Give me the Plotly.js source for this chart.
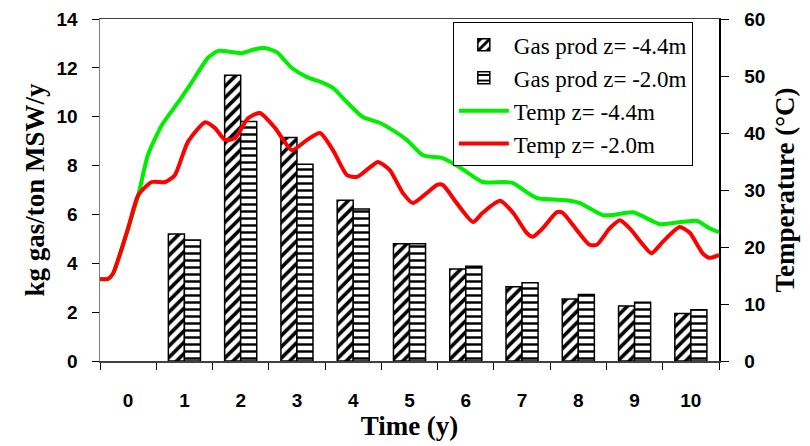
<!DOCTYPE html>
<html>
<head>
<meta charset="utf-8">
<script src="https://cdn.plot.ly/plotly-3.0.1.min.js"></script>
<style>html,body{margin:0;padding:0;background:#fff;}#chart{width:810px;height:446px;}</style>
</head>
<body>
<div id="chart"></div>
<script>
// Categories (years)
const years = [0, 1, 2, 3, 4, 5, 6, 7, 8, 9, 10];
const yearLabels = ["0", "1", "2", "3", "4", "5", "6", "7", "8", "9", "10"];
// Gas production (kg gas / ton MSW / y)
const gasDeep = [null, 5.2, 11.7, 9.15, 6.58, 4.8, 3.77, 3.04, 2.54, 2.25, 1.94];
const gasShallow = [null, 4.95, 9.8, 8.05, 6.22, 4.8, 3.88, 3.2, 2.72, 2.41, 2.1];

// Temperature curves (time in category units, °C)
const tempDeepTime = [-0.5, -0.36, -0.27, -0.15, 0.0, 0.18, 0.35, 0.6, 0.89, 1.13, 1.42, 1.6, 1.85, 2.02, 2.25, 2.43, 2.64, 2.91, 3.18, 3.46, 3.64, 3.89, 4.17, 4.47, 4.7, 4.95, 5.24, 5.59, 5.89, 6.3, 6.66, 6.84, 7.26, 7.8, 8.03, 8.43, 8.61, 8.97, 9.45, 9.68, 10.1, 10.33, 10.5];
const tempDeep = [14.4, 14.4, 15.3, 18.6, 23.3, 29.1, 36.1, 41.4, 45.4, 48.9, 53.2, 54.4, 54.2, 54.0, 54.7, 54.9, 54.2, 51.4, 49.8, 48.8, 47.9, 45.4, 42.8, 41.8, 40.5, 38.8, 36.1, 35.6, 34.0, 31.4, 31.4, 31.2, 28.6, 28.2, 27.7, 25.6, 25.6, 26.1, 24.0, 24.2, 24.6, 23.3, 22.6];

const tempShallowTime = [-0.5, -0.36, -0.27, -0.15, 0.0, 0.18, 0.42, 0.66, 0.83, 1.06, 1.37, 1.54, 1.72, 1.9, 2.13, 2.34, 2.61, 2.91, 3.18, 3.41, 3.64, 3.89, 4.07, 4.3, 4.44, 4.65, 4.88, 5.06, 5.31, 5.49, 5.59, 5.84, 6.13, 6.3, 6.61, 6.84, 7.08, 7.19, 7.37, 7.62, 7.72, 7.97, 8.2, 8.33, 8.56, 8.74, 8.91, 9.15, 9.3, 9.5, 9.8, 9.98, 10.21, 10.33, 10.5];
const tempShallow = [14.4, 14.4, 15.3, 18.6, 23.3, 29.1, 31.4, 31.4, 32.6, 38.4, 41.9, 40.9, 38.8, 39.1, 42.6, 43.5, 40.9, 37.0, 38.8, 40.0, 37.0, 32.6, 32.3, 34.0, 34.9, 33.5, 29.5, 27.7, 29.5, 30.9, 30.9, 27.7, 24.4, 26.0, 28.1, 26.0, 22.5, 21.8, 23.3, 26.1, 26.0, 23.0, 20.4, 20.4, 23.3, 24.7, 23.3, 20.4, 18.9, 20.9, 23.5, 22.5, 18.9, 18.1, 18.6];

const seriesNames = ["Gas prod z= -4.4m", "Gas prod z= -2.0m", "Temp z= -4.4m", "Temp z= -2.0m"];

const serif = "Liberation Serif, Times New Roman, serif";
const sans = "Liberation Sans, Arial, sans-serif";

const traces = [
  {
    type: "bar", x: years, y: gasDeep, name: seriesNames[0],
    marker: {color: "white", line: {color: "black", width: 1.5},
      pattern: {shape: "/", fgcolor: "black", bgcolor: "white", size: 8, solidity: 0.45}},
    yaxis: "y"
  },
  {
    type: "bar", x: years, y: gasShallow, name: seriesNames[1],
    marker: {color: "white", line: {color: "black", width: 1.5},
      pattern: {shape: "-", fgcolor: "black", bgcolor: "white", size: 7, solidity: 0.35}},
    yaxis: "y"
  },
  {
    type: "scatter", mode: "lines", x: tempDeepTime, y: tempDeep, name: seriesNames[2],
    line: {color: "#00ee00", width: 4, shape: "spline", smoothing: 0.6}, yaxis: "y2"
  },
  {
    type: "scatter", mode: "lines", x: tempShallowTime, y: tempShallow, name: seriesNames[3],
    line: {color: "#ff0000", width: 4, shape: "spline", smoothing: 0.6}, yaxis: "y2"
  }
];

const boundaries = [];
for (let i = 0; i <= years.length; i++) boundaries.push(i - 0.5);

const layout = {
  width: 810, height: 446,
  margin: {l: 100, r: 91, t: 19, b: 85},
  paper_bgcolor: "white", plot_bgcolor: "white",
  barmode: "group", bargap: 0.43, bargroupgap: 0,
  showlegend: true,
  legend: {
    x: 0.57, y: 0.99, xanchor: "left", yanchor: "top",
    bordercolor: "black", borderwidth: 1, bgcolor: "white",
    font: {family: serif, size: 23, color: "black"},
    tracegroupgap: 0, itemwidth: 50
  },
  xaxis: {
    range: [-0.5, 10.5], tickmode: "array", tickvals: years, ticktext: yearLabels,
    ticks: "", showgrid: false, zeroline: false,
    showline: true, linecolor: "#404040", linewidth: 1.5, mirror: true,
    tickfont: {family: sans, size: 19, color: "black", weight: "bold"},
    ticklabelstandoff: 22,
    minor: {tickmode: "array", tickvals: boundaries, ticks: "outside", ticklen: 7, tickcolor: "black", tickwidth: 1, showgrid: false},
    title: {text: "<b>Time (y)</b>", font: {family: serif, size: 27, color: "black"}, standoff: 0}
  },
  yaxis: {
    range: [0, 14], tickmode: "array", tickvals: [0, 2, 4, 6, 8, 10, 12, 14],
    ticks: "outside", ticklen: 7, tickcolor: "black", tickwidth: 1,
    showgrid: false, zeroline: false, showline: true, linecolor: "#808080", linewidth: 1.5,
    tickfont: {family: sans, size: 19, color: "black", weight: "bold"},
    ticklabelstandoff: 10,
    title: {text: "<b>kg gas/ton MSW/y</b>", font: {family: serif, size: 27, color: "black"}, standoff: 4}
  },
  yaxis2: {
    range: [0, 60], overlaying: "y", side: "right", tickmode: "array", tickvals: [0, 10, 20, 30, 40, 50, 60],
    ticks: "outside", ticklen: 8, tickcolor: "black", tickwidth: 1,
    showgrid: false, zeroline: false, showline: true, linecolor: "black", linewidth: 1.5,
    tickfont: {family: sans, size: 19, color: "black", weight: "bold"},
    ticklabelstandoff: 12,
    title: {text: "<b>Temperature (°C)</b>", font: {family: serif, size: 27, color: "black"}, standoff: 10}
  }
};

Plotly.newPlot("chart", traces, layout, {displayModeBar: false, staticPlot: true});
</script>
</body>
</html>
